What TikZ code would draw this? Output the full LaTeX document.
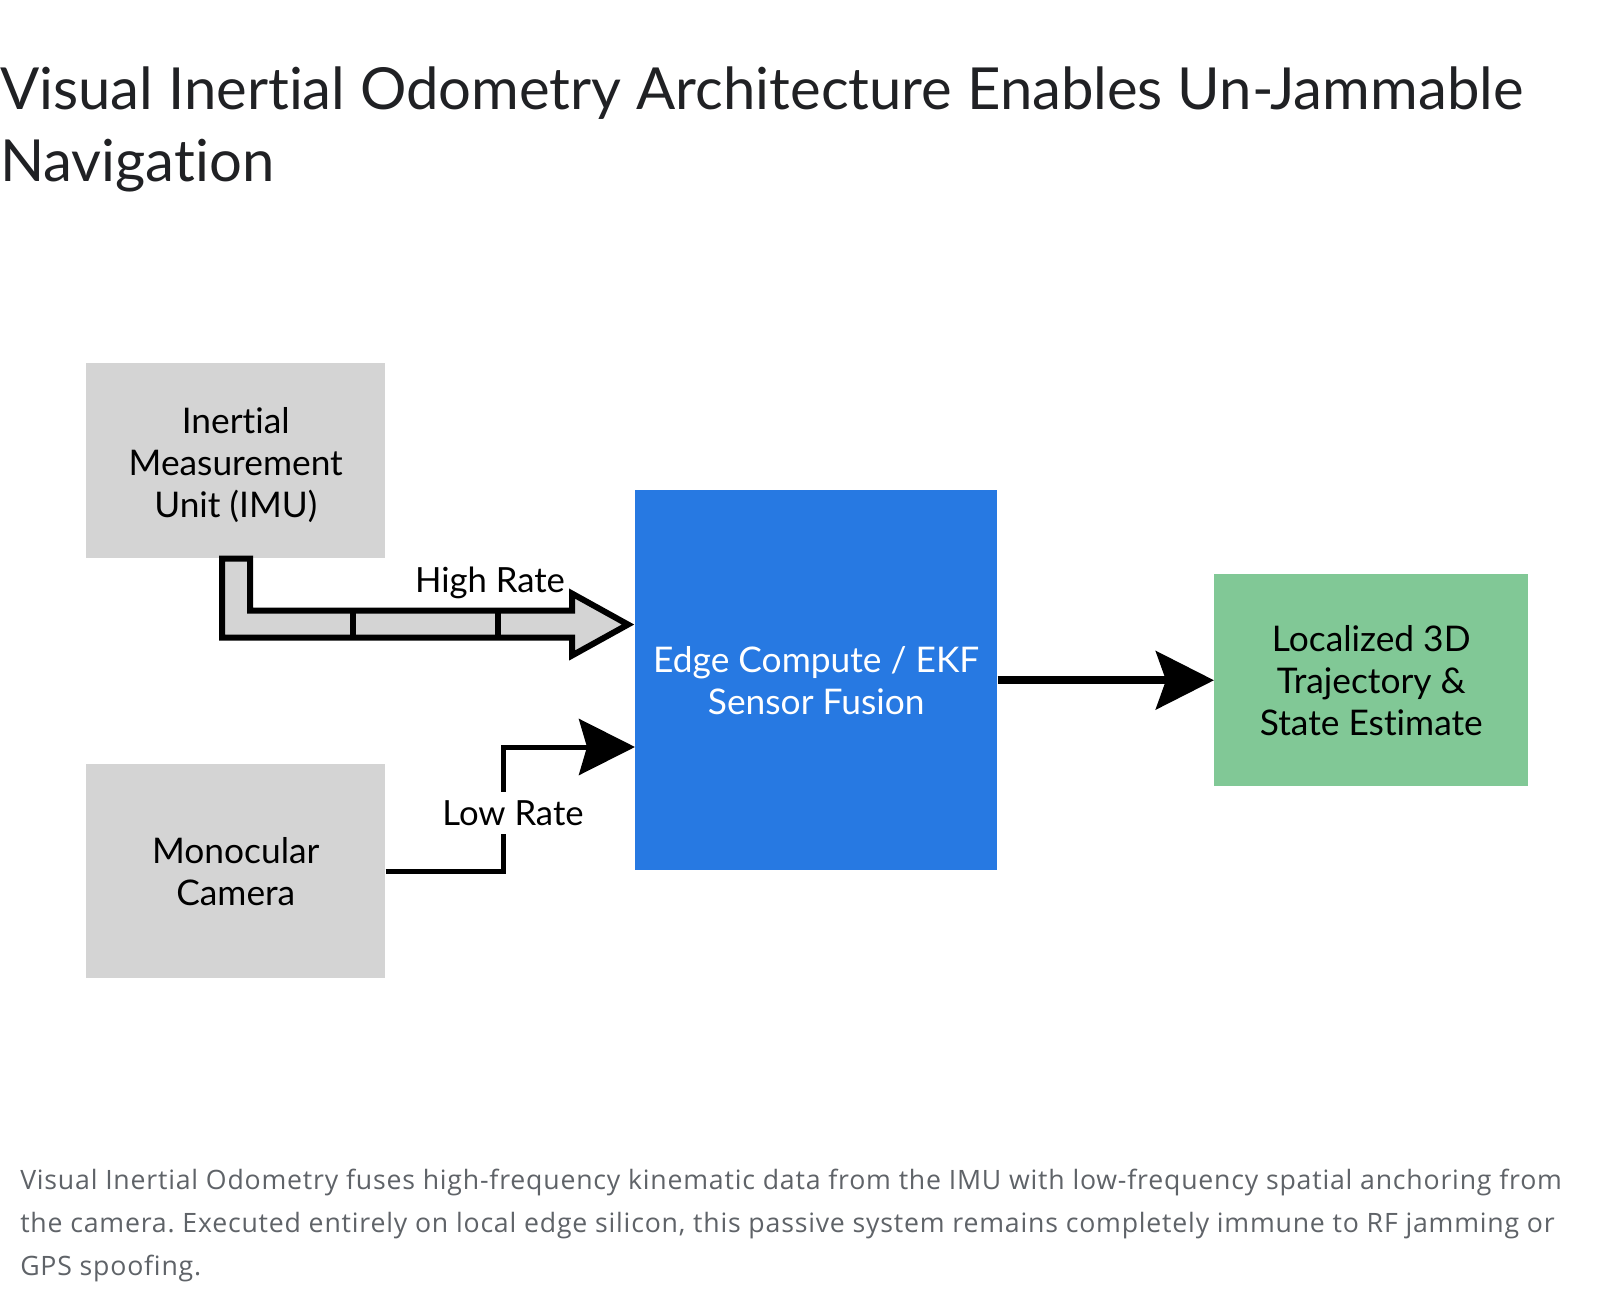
\documentclass[tikz,border=0pt]{standalone}
\usepackage{fontspec}
\setmainfont{Lato}[Ligatures=NoCommon]
\newfontfamily\capfont{Open Sans}[Ligatures=NoCommon, LetterSpace=3]
\usepackage{xcolor}
\usepackage{tikz}
\usetikzlibrary{arrows.meta}
\newlength{\px}
\setlength{\px}{0.75pt}
\frenchspacing
\definecolor{boxgray}{HTML}{D4D4D4}
\definecolor{fuseblue}{HTML}{2779E2}
\definecolor{outgreen}{HTML}{81C896}
\definecolor{titlegray}{HTML}{202124}
\definecolor{capgray}{HTML}{5F6368}
\tikzset{block/.style={anchor=north west, inner sep=0pt, align=center, font=\fontsize{26.5}{31.5}\selectfont},
         rate/.style={inner sep=0pt, font=\fontsize{26}{31.5}\selectfont},
         headline/.style={anchor=base west, inner sep=0pt, text=titlegray, font=\fontsize{43.5}{54}\selectfont},
         capline/.style={anchor=base west, inner sep=0pt, text=capgray, font=\capfont\fontsize{20}{24}\selectfont}}

\begin{document}
\begin{tikzpicture}[x=0.75pt,y=-0.75pt]
\fill[white] (0,0) rectangle (1600,1298);
\useasboundingbox (0,0) rectangle (1600,1298);
\node[headline] (title1) at (0,110) {Visual Inertial Odometry Architecture Enables Un-Jammable};
\node[headline] (title2) at (0,182) {Navigation};
\node[block, fill=boxgray, minimum width=299\px, minimum height=195\px] (imu) at (86,363) {\\[-8\px]Inertial\\Measurement\\Unit (IMU)};
\node[block, fill=boxgray, minimum width=299\px, minimum height=214\px] (cam) at (86,764) {Monocular\\Camera};
\node[block, fill=fuseblue, text=white, minimum width=362\px, minimum height=380\px] (fuse) at (635,490) {Edge Compute / EKF\\Sensor Fusion};
\node[block, fill=outgreen, minimum width=314\px, minimum height=212\px] (out) at (1214,574) {Localized 3D\\Trajectory \&\\State Estimate};
\draw[line width=6\px, fill=boxgray] (imu.south west) ++(136,0) -- ++(0,79) -- ++(350,0) -- ++(0,18) -- ++(56,-31) -- ++(-56,-31) -- ++(0,17) -- ++(-322,0) -- ++(0,-52) -- cycle;
\draw[line width=6\px] (353,610) -- (353,637);
\draw[line width=6\px] (498,610) -- (498,637);
\node[rate] (highlbl) at (490,583) {High Rate};
\draw[line width=5\px, -{Stealth[length=42pt, width=42pt, inset=6pt]}] (cam.east) -| (503,747) -- (fuse.west |- 0,747);
\node[rate, fill=white, inner xsep=4\px, inner ysep=8\px] (lowlbl) at (513,813) {Low Rate};
\draw[line width=8\px, -{Stealth[length=43.5pt, width=43.5pt, inset=7.5pt]}] (fuse.east) -- (out.west);
\node[capline] (cap1) at (20,1189) {Visual Inertial Odometry fuses high-frequency kinematic data from the IMU with low-frequency spatial anchoring from};
\node[capline] (cap2) at (20,1232) {the camera. Executed entirely on local edge silicon, this passive system remains completely immune to RF jamming or};
\node[capline] (cap3) at (20,1275) {GPS spoofing.};
\end{tikzpicture}
\end{document}
